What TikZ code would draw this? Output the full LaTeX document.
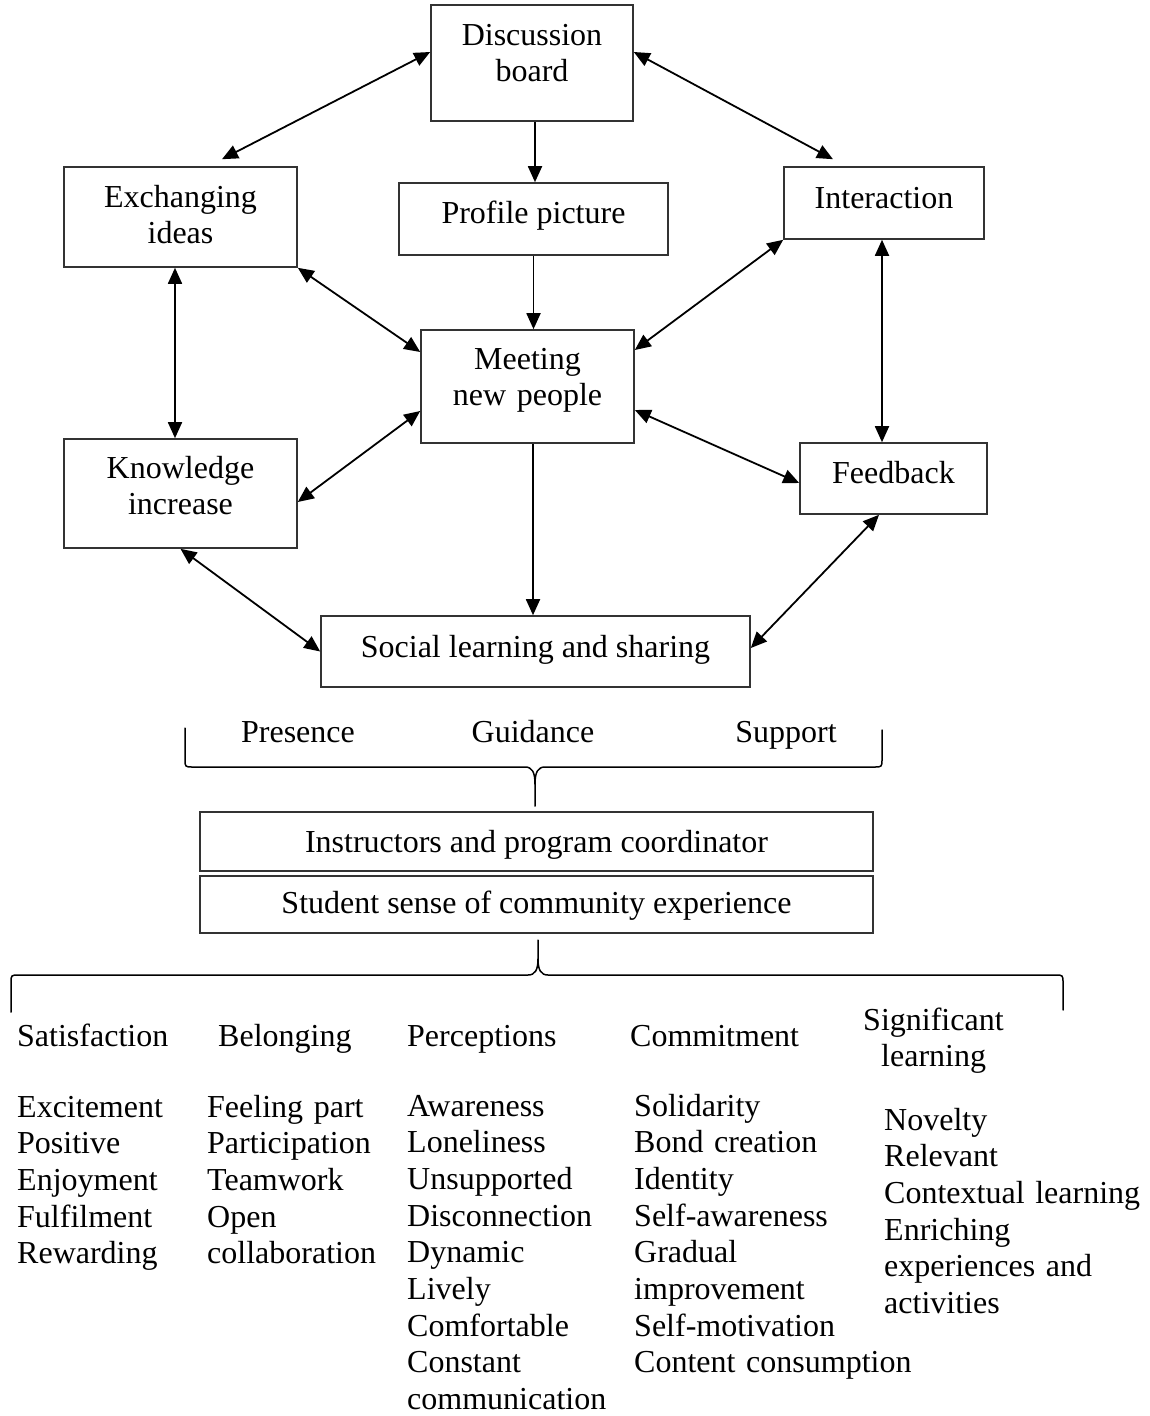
\documentclass[tikz,border=0pt]{standalone}
\usepackage{fontspec}
\setmainfont{Liberation Serif}
\usetikzlibrary{arrows.meta}
\newcommand\diafont{\fontsize{32}{36.7}\selectfont}
\tikzset{
  box/.style={draw=black!80, line width=1.6pt, inner sep=0pt, rectangle},
  lbl/.style={font=\diafont, inner sep=0pt, anchor=base},
  twoline/.style={lbl, text width=#1, align=center},
  col/.style={font=\diafont, inner sep=0pt, anchor=base west, text width=#1, align=left},
  link/.style={line width=1.8pt, {Triangle[length=16pt,width=14pt]}-{Triangle[length=16pt,width=14pt]}},
  flow/.style={line width=1.8pt, -{Triangle[length=16pt,width=14pt]}},
  bracepath/.style={line width=1.5pt, line cap=round, line join=round}
}
\begin{document}
\begin{tikzpicture}[x=1pt,y=-1pt]
\useasboundingbox (0,0) rectangle (1149,1416);

% boxes
\node[box, minimum width=202pt, minimum height=116pt] (disc) at (532,63) {};
\node[twoline=200pt] (disct) at (532,45) {Discussion\\board};
\node[box, minimum width=233pt, minimum height=100pt] (exch) at (180.5,217) {};
\node[twoline=230pt] (excht) at (180.5,207) {Exchanging\\ideas};
\node[box, minimum width=269pt, minimum height=72pt] (prof) at (533.5,219) {};
\node[lbl] (proft) at (533.5,223) {Profile picture};
\node[box, minimum width=200pt, minimum height=72pt] (inter) at (884,203) {};
\node[lbl] (intert) at (884,208) {Interaction};
\node[box, minimum width=213pt, minimum height=113pt] (meet) at (527.5,386.5) {};
\node[twoline=210pt] (meett) at (527.5,369) {Meeting\\new people};
\node[box, minimum width=233pt, minimum height=109pt] (know) at (180.5,493.5) {};
\node[twoline=230pt] (knowt) at (180.5,478) {Knowledge\\increase};
\node[box, minimum width=187pt, minimum height=71pt] (feed) at (893.5,478.5) {};
\node[lbl] (feedt) at (893.5,483) {Feedback};
\node[box, minimum width=429pt, minimum height=71pt] (soc) at (535.5,651.5) {};
\node[lbl] (soct) at (535.5,657) {Social learning and sharing};
\node[box, minimum width=673pt, minimum height=59pt] (instr) at (536.5,841.5) {};
\node[lbl] (instrt) at (536.5,852) {Instructors and program coordinator};
\node[box, minimum width=673pt, minimum height=57pt] (stud) at (536.5,904.5) {};
\node[lbl] (studt) at (536.5,913) {Student sense of community experience};

% connectors
\draw[link] ([yshift=11pt]disc.west) -- ([xshift=41.5pt,yshift=7pt]exch.north);
\draw[flow] ([xshift=3pt]disc.south) -- ([xshift=3pt]disc.south |- prof.north);
\draw[link] ([yshift=11pt]disc.east) -- ([xshift=-51pt,yshift=7pt]inter.north);
\draw[flow] (prof.south) -- (prof.south |- meet.north);
\draw[link] (exch.south east) -- ([yshift=34.5pt]meet.west);
\draw[link] ([xshift=-5.5pt]exch.south) -- ([xshift=-5.5pt]exch.south |- know.north);
\draw[link] ([yshift=-8.5pt]know.east) -- ([yshift=-24.5pt]meet.west);
\draw[link] ([yshift=36.5pt]meet.east) -- (inter.south west);
\draw[link] ([xshift=-2pt]inter.south) -- ([xshift=-2pt]inter.south |- feed.north);
\draw[link] ([yshift=-23.5pt]meet.east) -- ([yshift=-4.5pt]feed.west);
\draw[flow] ([xshift=5.5pt]meet.south) -- ([xshift=5.5pt]meet.south |- soc.north);
\draw[link] (know.south) -- (soc.west);
\draw[link] ([xshift=-14.5pt]feed.south) -- ([yshift=3.5pt]soc.east);

% upper brace
\node[lbl] (pres) at (298,742) {Presence};
\node[lbl] (guid) at (533,742) {Guidance};
\node[lbl] (supp) at (786,742) {Support};
\draw[bracepath] (185,728) -- (185,759) .. controls (185,767) .. (193,767) -- (525,767)
  .. controls (532,767) and (535,772) .. (535,784) -- (535,806);
\draw[bracepath] (882,730) -- (882,759) .. controls (882,767) .. (874,767) -- (545,767)
  .. controls (538,767) and (535,772) .. (535,784);

% lower brace
\draw[bracepath] (11,1012) -- (11,983) .. controls (11,975) .. (19,975) -- (528,975)
  .. controls (535,975) and (538,970) .. (538,959) -- (538,940);
\draw[bracepath] (1063,1010) -- (1063,983) .. controls (1063,975) .. (1055,975) -- (548,975)
  .. controls (541,975) and (538,970) .. (538,959);

% columns
\node[col=180pt] (sath) at (17,1046) {Satisfaction};
\node[col=180pt] (belh) at (218,1046) {Belonging};
\node[col=210pt] (perh) at (407,1046) {Perceptions};
\node[col=220pt] (comh) at (630,1046) {Commitment};
\node[col=250pt] (sigh) at (863,1030) {Significant\\\hspace*{18pt}learning};
\node[col=180pt] (satl) at (17,1117) {Excitement\\Positive\\Enjoyment\\Fulfilment\\Rewarding};
\node[col=190pt] (bell) at (207,1117) {Feeling part\\Participation\\Teamwork\\Open\\collaboration};
\node[col=215pt] (perl) at (407,1116) {Awareness\\Loneliness\\Unsupported\\Disconnection\\Dynamic\\Lively\\Comfortable\\Constant\\communication};
\node[col=300pt] (coml) at (634,1116) {Solidarity\\Bond creation\\Identity\\Self-awareness\\Gradual\\improvement\\Self-motivation\\Content consumption};
\node[col=262pt] (sigl) at (884,1130) {Novelty\\Relevant\\Contextual learning\\Enriching\\experiences and\\activities};
\end{tikzpicture}
\end{document}
